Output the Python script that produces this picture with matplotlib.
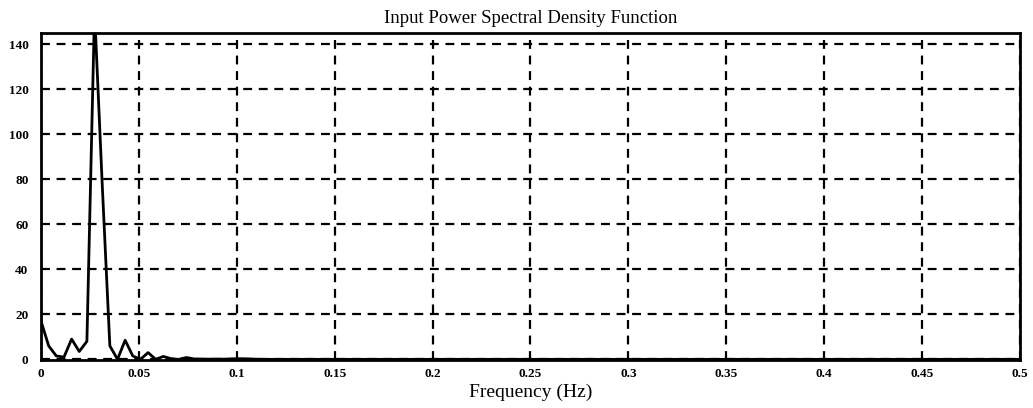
import numpy as np
import matplotlib
matplotlib.use("Agg")
import matplotlib.pyplot as plt

# Spectrum values at frequency bins k/256 Hz
psd_head = [17, 6, 1.5, 1.0, 9, 3.5, 8, 155, 78, 6, 0, 8.5, 1.5, 0, 3, 0, 1.3, 0.3, 0, 0.8,
            0.2, 0.1, 0.1, 0.1, 0.1, 0.2, 0.3, 0.2, 0.1]
psd_tail_value = 0.0
n_bins = 129
title_text = "Input Power Spectral Density Function"
xlabel_text = "Frequency (Hz)"
xticks = [0, 0.05, 0.1, 0.15, 0.2, 0.25, 0.3, 0.35, 0.4, 0.45, 0.5]
xtick_labels = ["0", "0.05", "0.1", "0.15", "0.2", "0.25", "0.3", "0.35", "0.4", "0.45", "0.5"]
yticks = [0, 20, 40, 60, 80, 100, 120, 140]

psd = np.array(psd_head + [psd_tail_value] * (n_bins - len(psd_head)))
freq = np.arange(n_bins) / 256.0

plt.rcParams['font.family'] = ['Liberation Serif', 'DejaVu Serif']

fig = plt.figure(figsize=(10.33, 4.08), dpi=100)
ax = fig.add_axes([0.0397, 0.1176, 0.9477, 0.8014])
ax.plot(freq, psd, color='black', lw=2.0, clip_on=True)
ax.set_xlim(0, 0.5)
ax.set_ylim(-0.3, 145)
ax.set_xticks(xticks)
ax.set_xticklabels(xtick_labels)
ax.set_yticks(yticks)
ax.grid(True, color='black', linestyle=(0, (4, 3)), linewidth=1.6)
for s in ax.spines.values():
    s.set_linewidth(2.0)
ax.tick_params(axis='x', length=0, labelsize=9.5, pad=6)
ax.tick_params(axis='y', length=0, labelsize=9.5, pad=9)
for lab in ax.get_xticklabels() + ax.get_yticklabels():
    lab.set_fontweight('bold')
ax.set_title(title_text, fontsize=13.5, pad=7)
ax.set_xlabel(xlabel_text, fontsize=14, labelpad=2.5)
fig.savefig("out.png", dpi=100)
